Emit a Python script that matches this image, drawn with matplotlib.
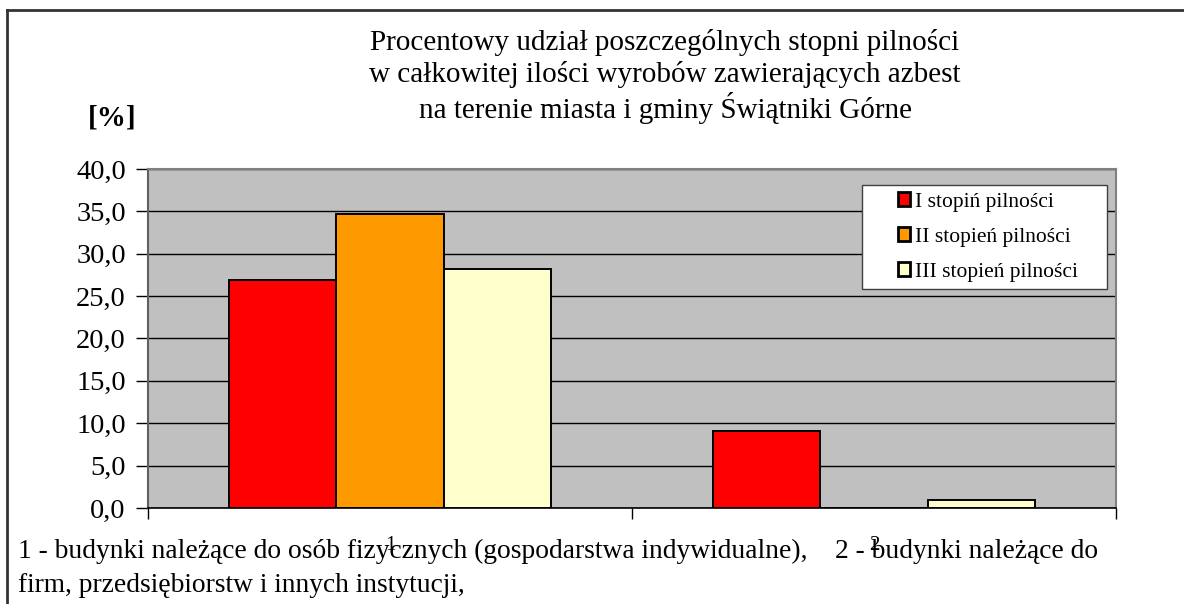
import numpy as np
import matplotlib.pyplot as plt
from matplotlib.lines import Line2D
from matplotlib.patches import Rectangle

plt.rcParams['font.family'] = ['Liberation Serif', 'DejaVu Serif']

# data
categories = ['1', '2']
series_names = ['I stopiń pilności', 'II stopień pilności', 'III stopień pilności']
series_colors = ['#FF0000', '#FF9900', '#FFFFCC']
values = [
    [26.9, 9.1],   # I
    [34.7, 0.0],   # II
    [28.2, 0.9],   # III
]
yticks = np.arange(0, 45, 5)

title_lines = ['Procentowy udział poszczególnych stopni pilności',
               'w całkowitej ilości wyrobów zawierających azbest',
               'na terenie miasta i gminy Świątniki Górne']
note1 = '1 - budynki należące do osób fizycznych (gospodarstwa indywidualne),    2 - budynki należące do'
note2 = 'firm, przedsiębiorstw i innych instytucji,'

fig = plt.figure(figsize=(11.84, 6.04), dpi=100)
ax = fig.add_axes([0.125, 0.159, 0.8176, 0.5612])

x = np.arange(len(categories))
w = 0.2216
for i, (name, vals, col) in enumerate(zip(series_names, values, series_colors)):
    ax.bar(x + (i - 1) * w, vals, width=w, color=col, edgecolor='black',
           linewidth=1.4, label=name, zorder=3)

ax.set_facecolor('#C0C0C0')
ax.set_xlim(-0.5, 1.5)
ax.set_ylim(0, 40)
ax.set_yticks(yticks)
ax.set_yticklabels([f'{v:.1f}'.replace('.', ',') for v in yticks], fontsize=20.5)
ax.yaxis.grid(True, color='black', linewidth=1.0, zorder=1)
ax.set_axisbelow(True)
ax.tick_params(axis='y', length=9, width=1, pad=7)

ax.set_xticks([-0.5, 0.5, 1.5])
ax.set_xticklabels(['', '', ''])
ax.set_xticks(x, minor=True)
ax.set_xticklabels(categories, minor=True, fontsize=15)
ax.tick_params(axis='x', which='major', length=8, width=1)
ax.tick_params(axis='x', which='minor', length=0, pad=20)

for s in ['top', 'right']:
    ax.spines[s].set_color('#808080')
    ax.spines[s].set_linewidth(1.5)
ax.spines['left'].set_color('#606060')
ax.spines['left'].set_linewidth(1.5)
ax.spines['bottom'].set_color('black')
ax.spines['bottom'].set_linewidth(1.2)

# legend box drawn separately so the entries sit inset like in the original
ax.add_patch(Rectangle((0.7376, 0.646), 0.2531, 0.307, transform=ax.transAxes,
                       facecolor='white', edgecolor='#404040', linewidth=1.0, zorder=4))
leg = ax.legend(loc='upper left', bbox_to_anchor=(0.7676, 0.95), fontsize=15.5,
                frameon=False, handlelength=0.6, handleheight=0.6, handletextpad=0.2,
                labelspacing=0.72, borderpad=0.3, borderaxespad=0)
leg.set_zorder(5)
for h in leg.legend_handles:
    h.set_linewidth(2.0)

title_y = [42, 75, 108]
for line, yy in zip(title_lines, title_y):
    fig.text(0.5617, 1 - yy / 604, line, ha='center', va='center', fontsize=21)
fig.text(0.0946, 1 - 118 / 604, '[%]', ha='center', va='center', fontsize=21, fontweight='bold')

fig.text(0.015, 1 - 551 / 604, note1, ha='left', va='center', fontsize=19.8)
fig.text(0.015, 1 - 586 / 604, note2, ha='left', va='center', fontsize=19.8)

# outer frame edges (top and left visible in the crop)
fig.add_artist(Line2D([0.006, 1.0], [0.9834, 0.9834], color='#333333', linewidth=2,
                      transform=fig.transFigure))
fig.add_artist(Line2D([0.006, 0.006], [0.0, 0.9834], color='#333333', linewidth=2,
                      transform=fig.transFigure))

fig.savefig('out.png', dpi=100)
